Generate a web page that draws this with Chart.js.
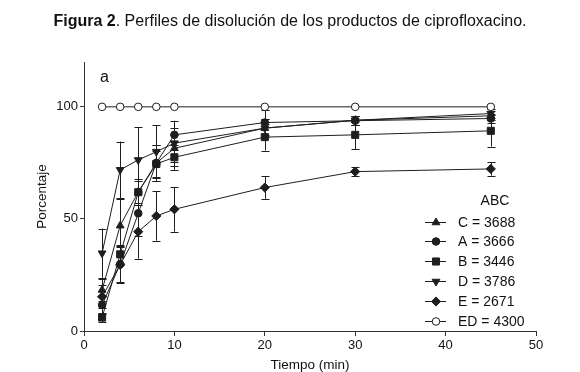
<!DOCTYPE html>
<html lang="es">
<head>
<meta charset="utf-8">
<script src="https://cdn.jsdelivr.net/npm/chart.js@4/dist/chart.umd.min.js"></script>
<style>
  html, body { margin: 0; padding: 0; background: #fff; }
  #wrap { width: 580px; height: 372px; }
</style>
</head>
<body>
<div id="wrap"><canvas id="grafico" width="580" height="372"></canvas></div>
<script>
// ===============================
// DATOS
// ===============================
const tiempo = [2, 4, 6, 8, 10, 20, 30, 45];

const serieC  = [18.3, 47, 62, 75, 81.5, 90.5, 94, 96];
const serieA  = [11.6, 29.8, 52.5, 75, 87.5, 93, 93.8, 94.8];
const serieB  = [6, 34.2, 61.9, 74.5, 77.5, 86.5, 87.5, 89.3];
const serieD  = [34.7, 71.9, 76.3, 80, 83.8, 90.5, 94, 97];
const serieE  = [15.3, 29.5, 44.3, 51.3, 54.3, 64, 71.1, 72.3];
const serieED = [100, 100, 100, 100, 100, 100, 100, 100];

// desviaciones (barras de error, +/-)
const errC  = [5, 12, 6, 8, 6, 4, 2, 2];
const errA  = [4, 8, 10, 8, 3, 5.7, 2, 2];
const errB  = [2, 4, 5, 6, 5.6, 6, 6.3, 7];
const errD  = [11, 12.6, 14.5, 11.7, 10, 4, 2, 2];
const errE  = [5, 8, 12, 11, 10, 5, 2, 3];
const errED = [0, 0, 0, 0, 0, 0, 0, 0];

const etiquetas = ["C = 3688", "A = 3666", "B = 3446", "D = 3786", "E = 2671", "ED = 4300"];
const ticksY = [0, 50, 100];
const ticksX = [0, 10, 20, 30, 40, 50];

const TINTA = "#1e1e1e";
const FUENTE = "'Liberation Sans', Arial, sans-serif";

// ===============================
// DATASETS
// ===============================
function serie(label, valores, errores, estilo, rot, radio, relleno) {
  return {
    label,
    data: tiempo.map((t, i) => ({ x: t, y: valores[i] })),
    errores,
    borderColor: TINTA,
    borderWidth: 1,
    pointStyle: estilo,
    pointRotation: rot,
    pointRadius: radio,
    pointBackgroundColor: relleno,
    pointBorderColor: TINTA,
    pointBorderWidth: 1,
    tension: 0,
    fill: false,
  };
}

const datasets = [
  serie(etiquetas[0], serieC, errC, "triangle", 0, 4.5, TINTA),
  serie(etiquetas[1], serieA, errA, "circle", 0, 3.8, TINTA),
  serie(etiquetas[2], serieB, errB, "rect", 0, 5, TINTA),
  serie(etiquetas[3], serieD, errD, "triangle", 180, 4.5, TINTA),
  serie(etiquetas[4], serieE, errE, "rectRot", 0, 4.6, TINTA),
  serie(etiquetas[5], serieED, errED, "circle", 0, 3.8, "#ffffff"),
];

// ===============================
// PLUGINS
// ===============================
const barrasError = {
  id: "barrasError",
  beforeDatasetsDraw(chart) {
    const { ctx, scales: { x, y } } = chart;
    ctx.save();
    ctx.strokeStyle = TINTA;
    ctx.lineWidth = 1;
    chart.data.datasets.forEach(ds => {
      ds.data.forEach((p, i) => {
        const e = ds.errores[i];
        if (!e) return;
        const px = Math.round(x.getPixelForValue(p.x)) + 0.5;
        const y1 = y.getPixelForValue(p.y + e);
        const y2 = y.getPixelForValue(p.y - e);
        ctx.beginPath();
        ctx.moveTo(px, y1); ctx.lineTo(px, y2);
        ctx.moveTo(px - 4, Math.round(y1) + 0.5); ctx.lineTo(px + 4, Math.round(y1) + 0.5);
        ctx.moveTo(px - 4, Math.round(y2) + 0.5); ctx.lineTo(px + 4, Math.round(y2) + 0.5);
        ctx.stroke();
      });
    });
    ctx.restore();
  },
};

const textos = {
  id: "textos",
  afterDraw(chart) {
    const { ctx } = chart;
    ctx.save();
    ctx.fillStyle = "#111";
    ctx.textBaseline = "alphabetic";

    // titulo con parte en negrita
    const negrita = "bold 16px " + FUENTE;
    const normal = "16px " + FUENTE;
    const t1 = "Figura 2", t2 = ". Perfiles de disolución de los productos de ciprofloxacino.";
    ctx.font = negrita; const w1 = ctx.measureText(t1).width;
    ctx.font = normal;  const w2 = ctx.measureText(t2).width;
    const x0 = 290 - (w1 + w2) / 2;
    ctx.font = negrita; ctx.fillText(t1, x0, 26);
    ctx.font = normal;  ctx.fillText(t2, x0 + w1, 26);

    // letra del panel
    ctx.font = "16px " + FUENTE;
    ctx.fillText("a", 100, 82);

    // leyenda
    ctx.font = "14px " + FUENTE;
    ctx.textAlign = "center";
    ctx.fillText("ABC", 495, 205);
    ctx.textAlign = "left";
    ctx.textBaseline = "middle";
    const filas = [222, 241, 261, 281, 301, 321];
    chart.data.datasets.forEach((ds, i) => {
      const fy = filas[i];
      ctx.strokeStyle = TINTA;
      ctx.lineWidth = 1;
      ctx.beginPath();
      ctx.moveTo(425, Math.round(fy) + 0.5); ctx.lineTo(446, Math.round(fy) + 0.5);
      ctx.stroke();
      ctx.fillStyle = ds.pointBackgroundColor;
      ctx.strokeStyle = TINTA;
      Chart.helpers.drawPoint(ctx, {
        pointStyle: ds.pointStyle,
        rotation: ds.pointRotation,
        radius: ds.pointRadius,
        borderWidth: 1,
      }, 436, fy + 0.5);
      ctx.fillStyle = "#111";
      ctx.fillText(ds.label, 458, fy + 1);
    });
    ctx.restore();
  },
};

// ===============================
// CHART
// ===============================
new Chart(document.getElementById("grafico"), {
  type: "line",
  data: { datasets },
  plugins: [barrasError, textos],
  options: {
    responsive: false,
    animation: false,
    layout: { padding: { top: 62, right: 44, left: 0, bottom: 0 } },
    plugins: { legend: { display: false }, tooltip: { enabled: false } },
    scales: {
      x: {
        type: "linear",
        min: 0, max: 50,
        afterFit: s => { s.height = 41; },
        afterBuildTicks: s => { s.ticks = ticksX.map(v => ({ value: v })); },
        grid: { drawOnChartArea: false, drawTicks: true, tickLength: 5, color: "#333" },
        border: { color: "#333", width: 1 },
        ticks: { color: "#111", font: { family: FUENTE, size: 13 }, padding: 2 },
        title: {
          display: true, text: "Tiempo (min)", color: "#111",
          font: { family: FUENTE, size: 13.5 }, padding: { top: 0, bottom: -1 },
        },
      },
      y: {
        type: "linear",
        min: 0, max: 120,
        afterFit: s => { s.width = 84; },
        afterBuildTicks: s => { s.ticks = ticksY.map(v => ({ value: v })); },
        grid: { drawOnChartArea: false, drawTicks: true, tickLength: 4, color: "#333" },
        border: { color: "#333", width: 1 },
        ticks: { color: "#111", font: { family: FUENTE, size: 13 }, padding: 2 },
        title: {
          display: true, text: "Porcentaje", color: "#111",
          font: { family: FUENTE, size: 13.5 }, padding: { top: 34, bottom: 0 },
        },
      },
    },
  },
});
</script>
</body>
</html>
